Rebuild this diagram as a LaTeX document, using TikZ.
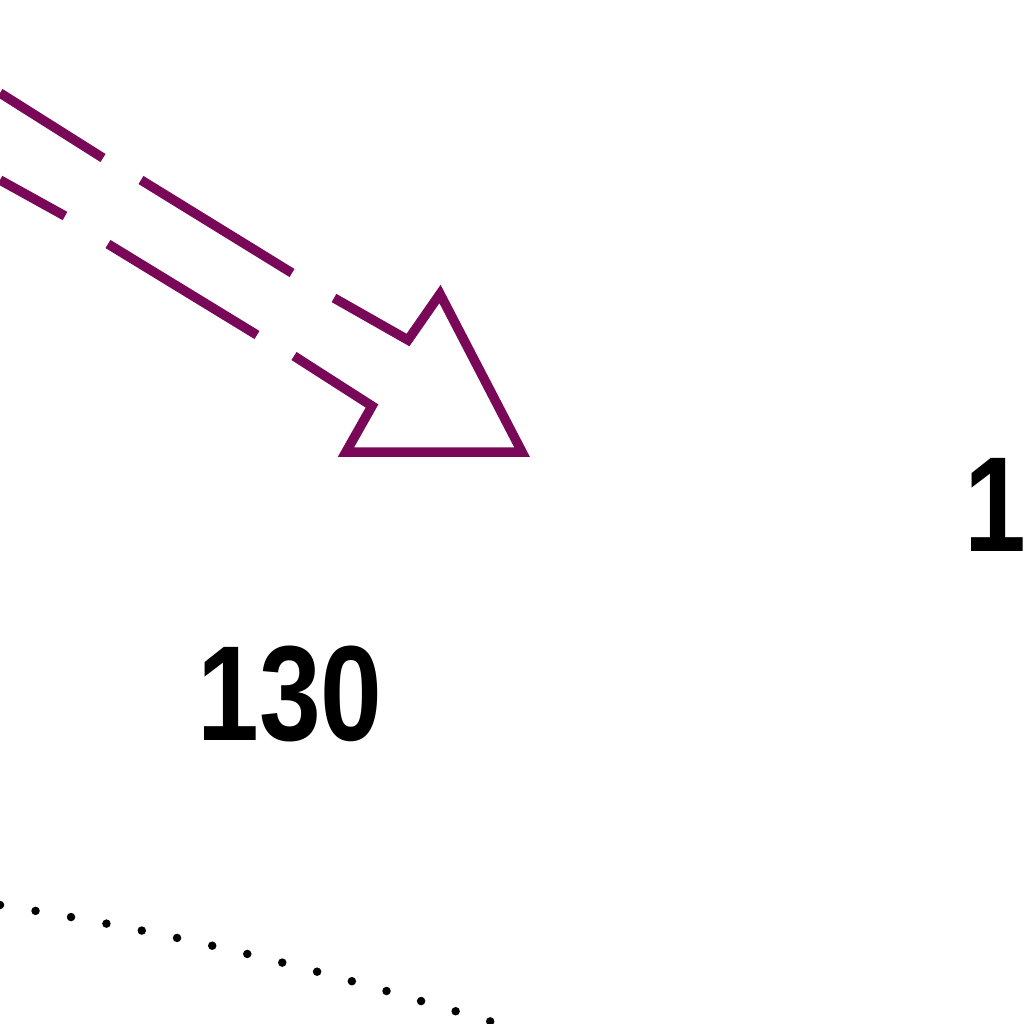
\documentclass[tikz,border=0pt]{standalone}
\usepackage{fontspec}
\setmainfont{Liberation Sans}
\usepackage{graphicx}
\definecolor{arrowpurple}{RGB}{122,8,88}
\newcommand{\refnumfont}{\fontsize{38.5}{40}\selectfont\bfseries}

\begin{document}
\begin{tikzpicture}[
            x=0.01cm, y=-0.01cm,
            outline/.style={draw=arrowpurple, line width=0.095cm, line join=miter},
            boundary/.style={draw=black, line width=0.085cm, line cap=round, dash pattern=on 0pt off 0.36cm},
            refnum/.style={inner sep=0pt, font=\refnumfont}
        ]
        \useasboundingbox (0,0) rectangle (1024,1024);

        % hollow arrow, dashed shaft
        \draw[outline] (0,93) -- (103,158);
        \draw[outline] (141,180) -- (292,273);
        \draw[outline] (334,298) -- (408,340) -- (440,294) -- (522,452) -- (346,452) -- (372,406) -- (294,356);
        \draw[outline] (257,335) -- (108,244);
        \draw[outline] (65,216) -- (0,180);

        % reference numerals
        \node[refnum] (n130) at (290,694) {\scalebox{0.82}[1]{130}};
        \node[refnum, anchor=west] (n150) at (964,505) {\scalebox{0.82}[1]{150}};

        % dotted boundary
        \draw[boundary] (0,905) .. controls (250,945) and (380,990) .. (520,1030);

\end{tikzpicture}
\end{document}
